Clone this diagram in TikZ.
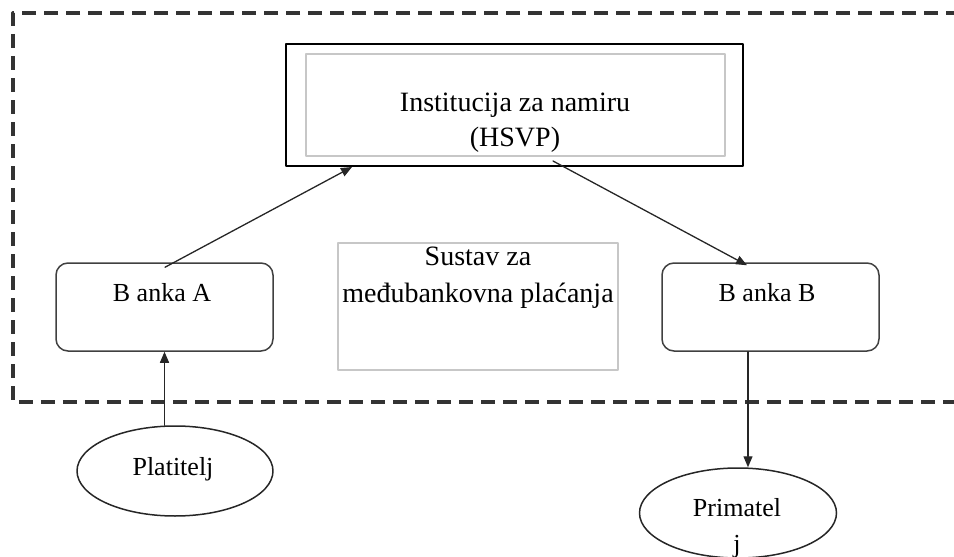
\documentclass[tikz,border=0pt]{standalone}
\usepackage{fontspec}
\setmainfont{Liberation Serif}
\usetikzlibrary{arrows.meta,calc,shapes.geometric}

\begin{document}
\begin{tikzpicture}[line cap=round,line join=round,>={Triangle[length=5.5pt,width=4.5pt]},x=0.5pt,y=-0.5pt,
  txt/.style={align=center,inner sep=0pt,font=\fontsize{13}{18}\selectfont},
  bigtxt/.style={align=center,inner sep=0pt,font=\fontsize{14}{17.5}\selectfont},
  bankbox/.style={draw=black!75,line width=0.75pt,rounded corners=6pt,minimum width=108.5pt,minimum height=44pt,inner sep=0pt},
  grayframe/.style={draw=black!22,line width=0.75pt,inner sep=0pt},
  person/.style={draw=black!85,ellipse,line width=0.75pt,minimum width=98pt,minimum height=45pt,inner sep=0pt},
  conn/.style={->,line width=0.65pt,black!85}]
            \useasboundingbox (0,0) rectangle (954,557);
            % granica sustava
            \draw [line width=1.6pt,black!80,line cap=butt,dash pattern=on 7pt off 4pt] (960,13) -- (13,13) -- (13,402) -- (960,402);
            % HSVP
            \node[draw,line width=1pt,minimum width=228.5pt,minimum height=61pt,inner sep=0pt] (hsvp) at (514.5,105) {};
            \node[grayframe,minimum width=209.5pt,minimum height=51pt] (hsvpin) at (515.5,105) {};
            \node[bigtxt] (hsvptxt) at (515,123) {Institucija za namiru\\(HSVP)};
            % banke
            \node[bankbox] (bankaA) at (164.5,307) {};
            \node[txt] (bankaAtxt) at (162,293) {B anka A};
            \node[bankbox] (bankaB) at (770.5,307) {};
            \node[txt] (bankaBtxt) at (767,293) {B anka B};
            \node[grayframe,minimum width=140pt,minimum height=63.5pt] (sustav) at (478,306.5) {};
            \node[bigtxt,font=\fontsize{14}{18.5}\selectfont] (sustavtxt) at (478,278) {Sustav za\\međubankovna plaćanja};
            % platitelj i primatelj
            \node[person] (platitelj) at (175,471) {};
            \node[txt] (platiteljtxt) at (173,469) {Platitelj};
            \node[person,minimum width=98.5pt] (primatelj) at (738,513) {};
            \node[txt] (primateljtxt) at (737,528) {Primatel\\j};
            % tokovi
            \draw[conn] ($(bankaA.north)+(0.5,5)$) -- ($(hsvp.south west)+(67,0)$);
            \draw[conn] ($(hsvp.south)+(38.5,-6)$) -- ($(bankaB.north)+(-23.5,3)$);
            \draw[conn] (platitelj.north -| bankaA.south) -- (bankaA.south);
            \draw[conn] ($(bankaB.south)+(-22.5,0)$) -- ($(primatelj.north)+(10,0)$);
        \end{tikzpicture}
\end{document}
